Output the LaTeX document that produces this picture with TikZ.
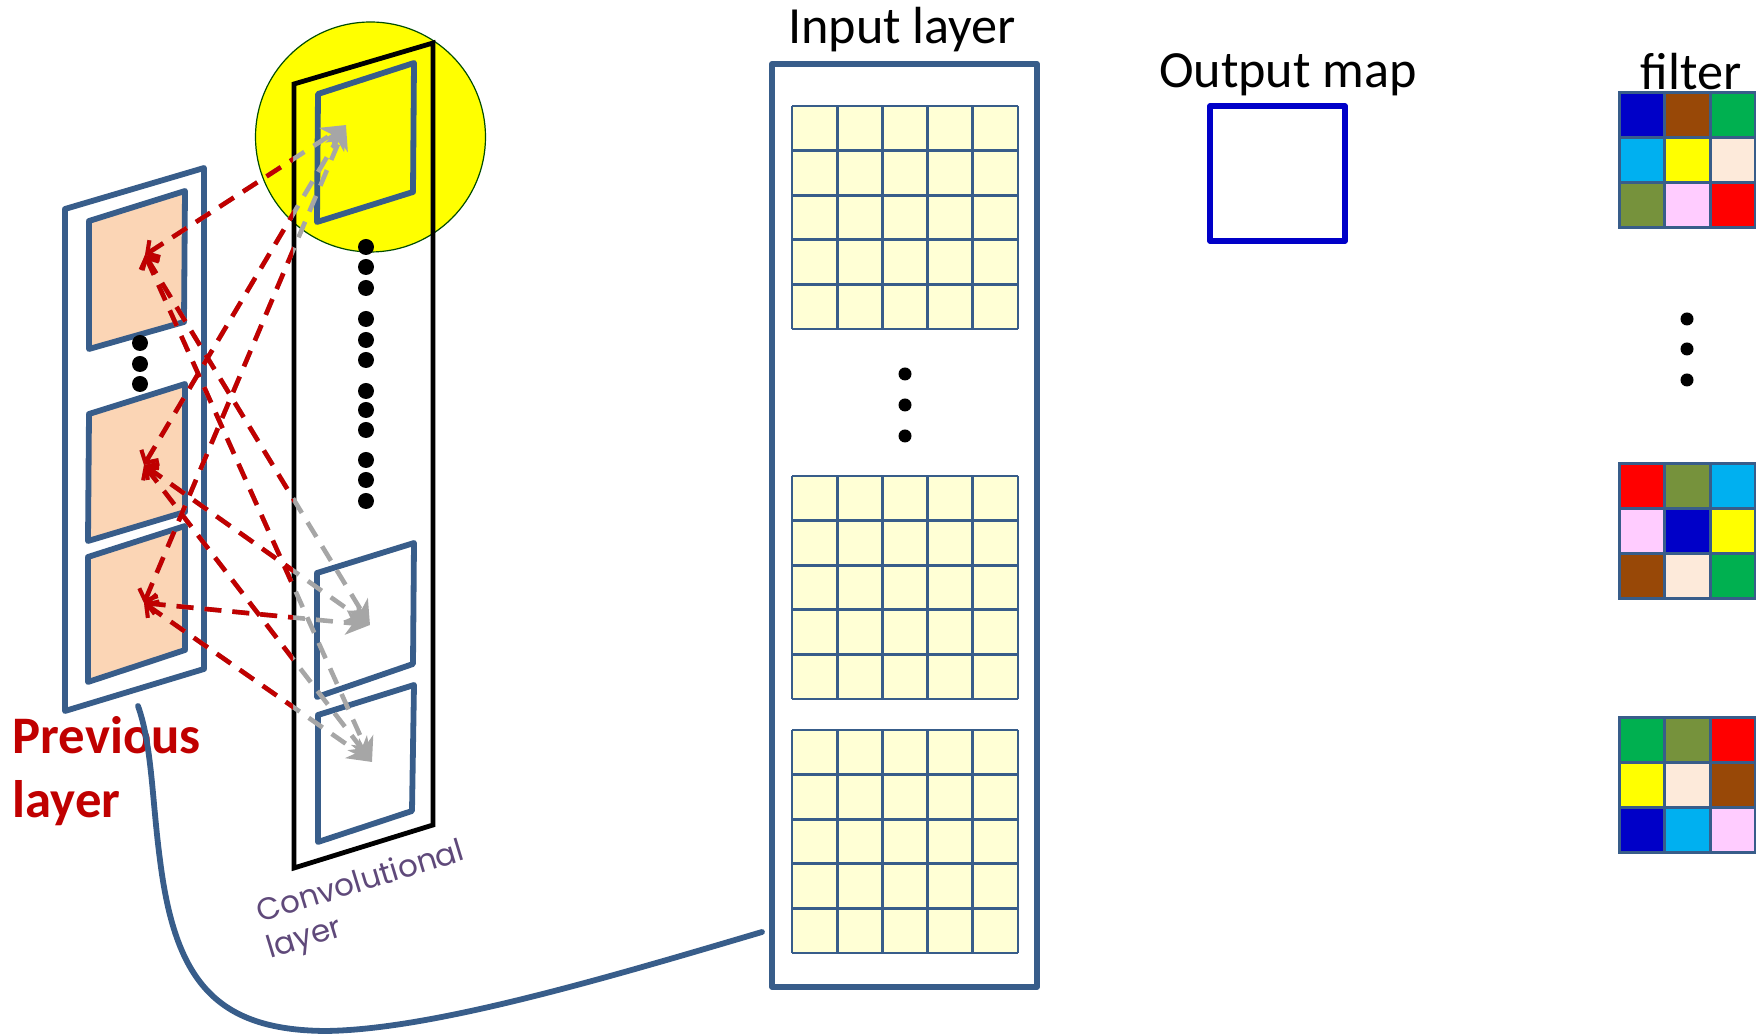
\documentclass[tikz,border=0pt]{standalone}
\usepackage{fontspec}
\setmainfont{Carlito}
\newfontfamily\handfont{Poppins}
\usetikzlibrary{arrows.meta}
\definecolor{bluel}{HTML}{385D8A}
\definecolor{redl}{HTML}{C00000}
\definecolor{grayl}{HTML}{A6A6A6}
\definecolor{peach}{HTML}{FBD5B5}
\definecolor{cream}{HTML}{FFFFD5}
\definecolor{purp}{HTML}{5F497A}
\definecolor{fb}{HTML}{0000C8}
\definecolor{fbr}{HTML}{984807}
\definecolor{fg}{HTML}{00B050}
\definecolor{fc}{HTML}{00B0F0}
\definecolor{fy}{HTML}{FFFF00}
\definecolor{fw}{HTML}{FDEADA}
\definecolor{fo}{HTML}{76923C}
\definecolor{fp}{HTML}{FFCCFF}
\definecolor{fr}{HTML}{FF0000}
\tikzset{
  panel/.style={draw=bluel,line width=0.058cm,line join=round},
  blackframe/.style={draw=black,line width=0.048cm,line join=miter},
  dotn/.style={fill=black,draw=none},
  gridline/.style={draw=bluel,line width=0.028cm},
  cell/.style={draw=bluel,line width=0.03cm},
  link/.style={line width=0.046cm,dash pattern=on 0.17cm off 0.11cm,
    {Straight Barb[length=0.09cm,width=0.2cm,line width=0.04cm]}-{Stealth[length=0.24cm,width=0.24cm,inset=0.07cm]}},
  title/.style={font=\fontsize{14.85pt}{17pt}\selectfont,inner sep=0pt,anchor=center},
}
\begin{document}
\begin{tikzpicture}[x=0.01cm,y=-0.01cm]
\useasboundingbox (0,0) rectangle (1756,1034);
% named anchors
\coordinate (A) at (145,255);
\coordinate (B) at (144,465);
\coordinate (C) at (144,603);
\coordinate (T1) at (346,125);
\coordinate (T2) at (370,625);
\coordinate (T3) at (372,762);
\coordinate (curveS) at (138,706);
\coordinate (curveE) at (762,932);
% highlight circle
\fill[fy,draw=black!70!green,line width=0.012cm] (370.5,137) circle (115);
% previous layer
\draw[panel] (65,209) -- (204,168) -- (204,669) -- (65,711) -- cycle;
\draw[panel,fill=peach] (89,221) -- (185,191) -- (184,322) -- (89,349) -- cycle;
\draw[panel,fill=peach] (89,414) -- (185,384) -- (185,512) -- (88,541) -- cycle;
\draw[panel,fill=peach] (88,557) -- (185,526) -- (185,650) -- (88,682) -- cycle;
\foreach \y in {343,364,384} \fill[dotn] (140,\y) circle (8);
% convolutional layer
\draw[blackframe] (294,84) -- (433,43) -- (433,825) -- (294,868) -- cycle;
\draw[panel] (318,94) -- (414,63) -- (413,192) -- (317,222) -- cycle;
\draw[panel] (317,573) -- (414,543) -- (413,664) -- (317,697) -- cycle;
\draw[panel] (318,715) -- (414,685) -- (412,811) -- (318,842) -- cycle;
\foreach \y in {247,267,288,319,340,360,391,410,430,460,480,501} \fill[dotn] (366,\y) circle (8);
% input layer
\draw[panel] (772,64) rectangle (1037,987);
\foreach \y in {106,476,730}{
  \fill[cream] (792,\y) rectangle (1018,\y+223);
  \foreach \i in {0,...,5}{
    \draw[gridline] (792+\i*45.2,\y) -- (792+\i*45.2,\y+223);
    \draw[gridline] (792,\y+\i*44.6) -- (1018,\y+\i*44.6);
  }
}
\foreach \y in {374,405,436} \fill[dotn] (905,\y) circle (6.5);
% output map
\draw[draw=fb,line width=0.055cm,line join=round] (1210,106) rectangle (1345,241);
% filters
\foreach \y/\ca/\cb/\cc/\cd/\ce/\cf/\cg/\ch/\ci in {
  93/fb/fbr/fg/fc/fy/fw/fo/fp/fr,
  464/fr/fo/fc/fp/fb/fy/fbr/fw/fg,
  718/fg/fo/fr/fy/fw/fbr/fb/fc/fp}{
  \draw[cell,fill=\ca] (1619,\y) rectangle (1664.5,\y+45);
  \draw[cell,fill=\cb] (1664.5,\y) rectangle (1710,\y+45);
  \draw[cell,fill=\cc] (1710,\y) rectangle (1755,\y+45);
  \draw[cell,fill=\cd] (1619,\y+45) rectangle (1664.5,\y+90);
  \draw[cell,fill=\ce] (1664.5,\y+45) rectangle (1710,\y+90);
  \draw[cell,fill=\cf] (1710,\y+45) rectangle (1755,\y+90);
  \draw[cell,fill=\cg] (1619,\y+90) rectangle (1664.5,\y+135);
  \draw[cell,fill=\ch] (1664.5,\y+90) rectangle (1710,\y+135);
  \draw[cell,fill=\ci] (1710,\y+90) rectangle (1755,\y+135);
}
\foreach \y in {319,349,380} \fill[dotn] (1687,\y) circle (6.5);
% links: grey beneath, red over the part left of the convolutional layer
\foreach \s in {A,B,C}\foreach \t in {T1,T2,T3}{
  \draw[link,grayl] (\s) -- (\t);
}
\begin{scope}
\clip (0,0) rectangle (293,1034);
\foreach \s in {A,B,C}\foreach \t in {T1,T2,T3}{
  \draw[link,redl] (\s) -- (\t);
}
\end{scope}
% labels
\node[title] (inputlabel) at (902,30) {Input layer};
\node[title] (outputlabel) at (1288,75) {Output map};
\node[title] (filterlabel) at (1691,72) {filter};
\node[inner sep=0pt,anchor=north west,align=left,text=redl,
  font=\fontsize{15pt}{18pt}\selectfont\bfseries] (prevlabel) at (12,716) {Previous\\layer};
\node[inner sep=0pt,text=purp,rotate=17,font=\handfont\fontsize{8.8pt}{10pt}\selectfont] (convlabel) at (360,880) {Convolutional};
\node[inner sep=0pt,text=purp,rotate=17,font=\handfont\fontsize{8.8pt}{10pt}\selectfont] (layerlabel) at (305,940) {layer};
% connector
\draw[bluel,line width=0.058cm,line cap=round] (curveS) .. controls (152,745) and (152,800) .. (160,860)
  .. controls (175,980) and (215,1030) .. (325,1031) .. controls (430,1030) and (600,980) .. (curveE);
\end{tikzpicture}
\end{document}
